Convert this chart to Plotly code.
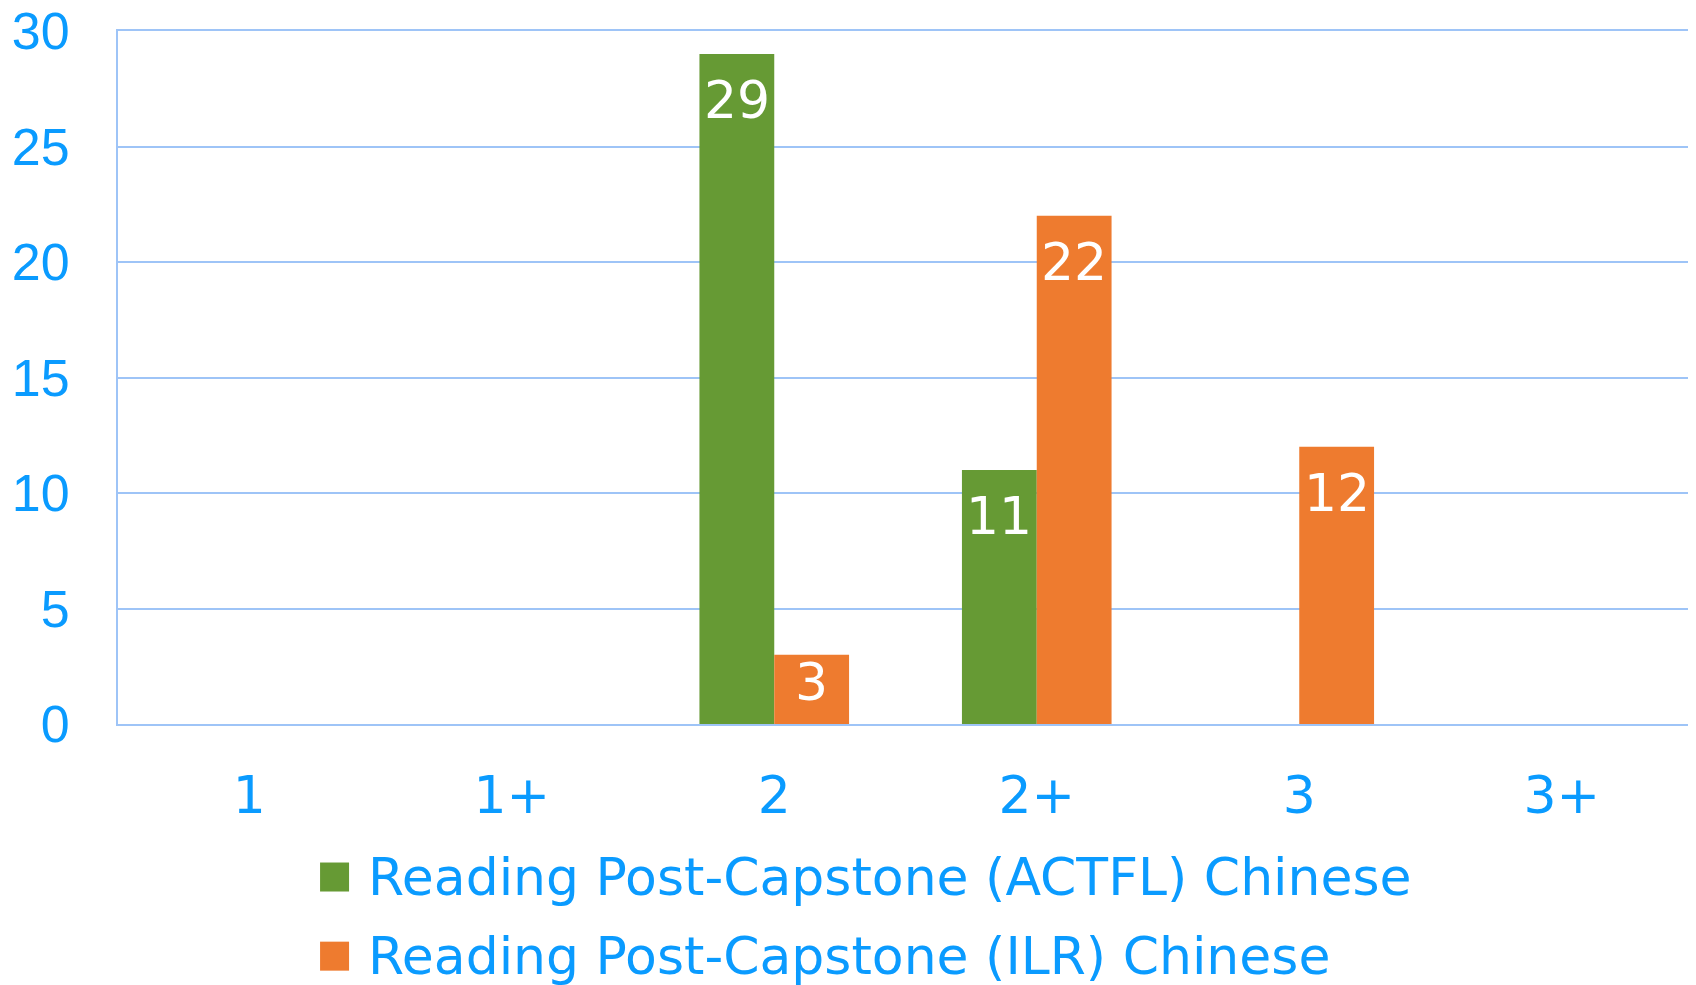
import plotly.graph_objects as go

categories = ["1", "1+", "2", "2+", "3", "3+"]
actfl_name = "Reading Post-Capstone (ACTFL) Chinese"
ilr_name = "Reading Post-Capstone (ILR) Chinese"
actfl_values = [None, None, 29, 11, None, None]
ilr_values = [None, None, 3, 22, 12, None]

GREEN = "#669A34"
ORANGE = "#EE7B2F"
BLUE = "#0A9BFF"
GRID = "#9EC4F7"
FONT = "DejaVu Sans"
NUMFONT = "Liberation Sans"
FS = 52
BARGAP = 0.43

fig = go.Figure()
series = [(actfl_name, actfl_values, GREEN), (ilr_name, ilr_values, ORANGE)]
for name, vals, col in series:
    fig.add_trace(go.Bar(
        x=categories, y=vals, name=name, marker=dict(color=col, line=dict(width=0)),
        showlegend=False,
    ))

# value labels, inside the top end of each bar
bw = (1 - BARGAP) / len(series)
for k, (name, vals, col) in enumerate(series):
    off = (k - (len(series) - 1) / 2) * bw
    for i, v in enumerate(vals):
        if v is None:
            continue
        fig.add_annotation(x=i + off, y=v - min(2.0, 0.4 * v), xref="x", yref="y",
                           text=str(v), showarrow=False, xanchor="center", yanchor="middle",
                           font=dict(color="white", size=FS, family=FONT))

# manual legend (large square swatches like the original)
legend_rows = [(actfl_name, GREEN, -0.2208), (ilr_name, ORANGE, -0.335)]
for name, col, yy in legend_rows:
    fig.add_shape(type="rect", xref="paper", yref="paper",
                  xsizemode="pixel", ysizemode="pixel",
                  xanchor=0.1375, yanchor=yy, x0=-14.5, x1=14.5, y0=-14.5, y1=14.5,
                  fillcolor=col, line=dict(width=0))
    fig.add_annotation(text=name, xref="paper", yref="paper", x=0.1576, y=yy,
                       xanchor="left", yanchor="middle", showarrow=False,
                       font=dict(color=BLUE, size=FS, family=FONT))

fig.update_layout(
    width=1696, height=985,
    margin=dict(l=110, r=11, t=23, b=269, pad=0),
    paper_bgcolor="white", plot_bgcolor="white",
    barmode="group", bargap=BARGAP, bargroupgap=0,
    font=dict(family=FONT, color=BLUE, size=FS),
    showlegend=False,
)
fig.update_xaxes(showgrid=False, showline=True, mirror=True, linecolor=GRID, linewidth=2,
                 ticks="", tickfont=dict(size=FS, color=BLUE, family=FONT),
                 ticklabelstandoff=25, automargin=False, ticklabeloverflow="allow")
fig.update_yaxes(range=[0, 30], dtick=5, showgrid=True, gridcolor=GRID, gridwidth=2,
                 showline=True, linecolor=GRID, linewidth=2, zeroline=False,
                 ticks="", tickfont=dict(size=FS, color=BLUE, family=NUMFONT),
                 ticklabelstandoff=36, automargin=False, ticklabeloverflow="allow")

fig.write_html("out.html")
